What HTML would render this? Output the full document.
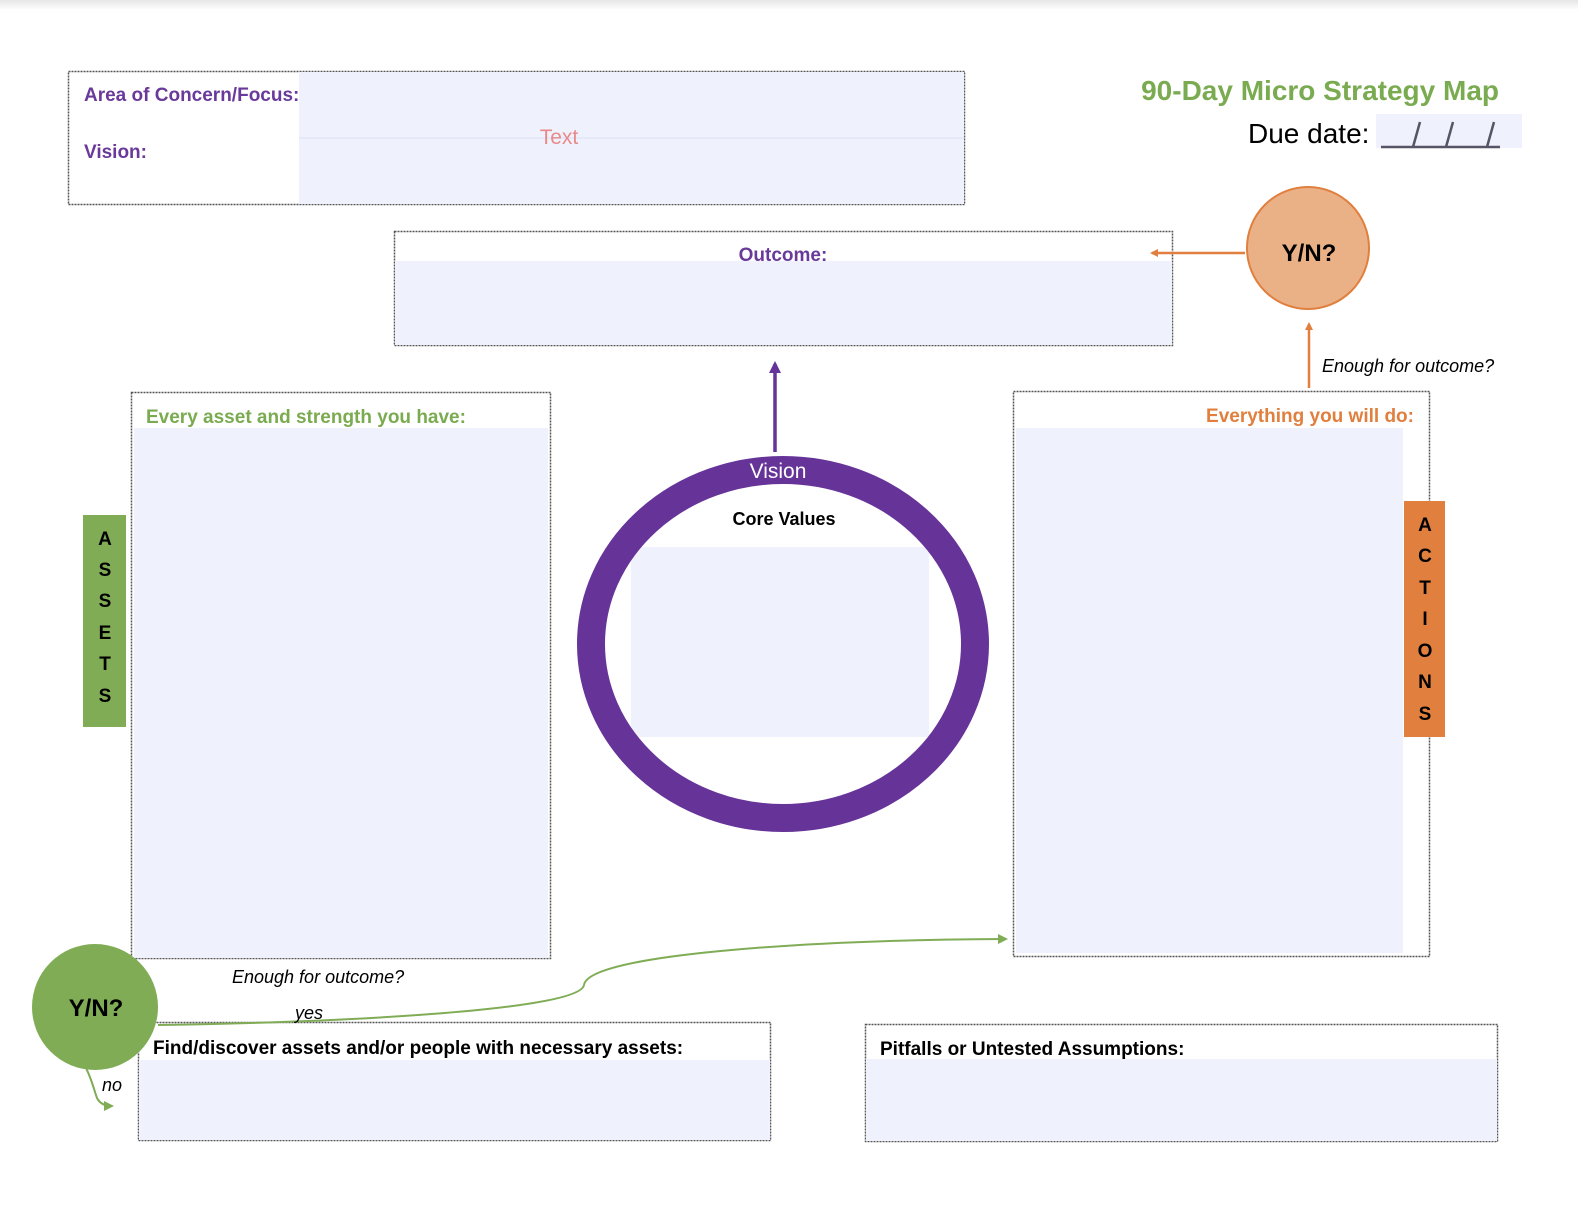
<!DOCTYPE html>
<html><head><meta charset="utf-8"><style>
html,body{margin:0;padding:0;background:#fff;overflow:hidden;width:1578px;height:1218px;}
svg{display:block;font-family:"Liberation Sans",sans-serif;}
.b{font-weight:bold;}
</style></head><body>
<svg width="1578" height="1218" viewBox="0 0 1578 1218" xmlns="http://www.w3.org/2000/svg">
<defs>
<linearGradient id="tg" x1="0" y1="0" x2="0" y2="1"><stop offset="0" stop-color="#e6e6e6"/><stop offset="1" stop-color="#fff"/></linearGradient>
<marker id="ao" markerWidth="8" markerHeight="8" refX="6" refY="4" orient="auto" markerUnits="userSpaceOnUse"><path d="M0,0 L8,4 L0,8 z" fill="#e07f3e"/></marker>
<marker id="ap" markerWidth="12" markerHeight="12" refX="9" refY="6" orient="auto" markerUnits="userSpaceOnUse"><path d="M0,0 L12,6 L0,12 z" fill="#663399"/></marker>
<marker id="ag" markerWidth="10" markerHeight="10" refX="8" refY="5" orient="auto" markerUnits="userSpaceOnUse"><path d="M0,0 L10,5 L0,10 z" fill="#7fac55"/></marker>
</defs>
<rect x="0" y="0" width="1578" height="10" fill="url(#tg)"/>
<g stroke="#555" stroke-width="1.5" stroke-dasharray="2,1" fill="none">
<rect x="68.5" y="71.5" width="896" height="133"/>
<rect x="394.5" y="231.5" width="778" height="114"/>
<rect x="131.5" y="392.5" width="419" height="566"/>
<rect x="1013.5" y="391.5" width="416" height="565"/>
<rect x="138.5" y="1022.5" width="632" height="118"/>
<rect x="865.5" y="1024.5" width="632" height="117"/>
</g>
<g fill="#eff2fd">
<rect x="299" y="72" width="665" height="132"/>
<rect x="395" y="261" width="777" height="84"/>
<rect x="134" y="428" width="414" height="530"/>
<rect x="1016" y="428" width="387" height="525"/>
<rect x="139" y="1060" width="631" height="80"/>
<rect x="866" y="1059" width="631" height="82"/>
<rect x="1376" y="114" width="146" height="34"/>
</g>
<line x1="299" y1="138" x2="964" y2="138" stroke="#e4e8f8" stroke-width="2"/>
<text x="84" y="101" class="b" font-size="19" fill="#6a3a9a">Area of Concern/Focus:</text>
<text x="84" y="158" class="b" font-size="19" fill="#6a3a9a">Vision:</text>
<text x="559" y="144" font-size="21" fill="#e88a8a" text-anchor="middle">Text</text>
<text x="1499" y="100" class="b" font-size="28" fill="#7aab50" text-anchor="end">90-Day Micro Strategy Map</text>
<text x="1248" y="143" font-size="28" fill="#000">Due date:</text>
<g stroke="#555566" stroke-width="2.5"><line x1="1381" y1="147" x2="1500" y2="147"/><line x1="1413" y1="147" x2="1420" y2="122"/><line x1="1446" y1="147" x2="1453" y2="122"/><line x1="1487" y1="147" x2="1494" y2="122"/></g>
<text x="783" y="261" class="b" font-size="19" fill="#6a3a9a" text-anchor="middle">Outcome:</text>
<circle cx="1308" cy="248" r="61" fill="#eab187" stroke="#e07f3e" stroke-width="2"/>
<text x="1309" y="261" class="b" font-size="24" text-anchor="middle">Y/N?</text>
<line x1="1245" y1="253" x2="1152" y2="253" stroke="#e07f3e" stroke-width="2.5" marker-end="url(#ao)"/>
<line x1="1309" y1="388" x2="1309" y2="324" stroke="#e07f3e" stroke-width="2.5" marker-end="url(#ao)"/>
<text x="1322" y="372" font-size="18" font-style="italic">Enough for outcome?</text>
<text x="146" y="423" class="b" font-size="19" fill="#7aab50">Every asset and strength you have:</text>
<text x="1414" y="422" class="b" font-size="19" fill="#e07f3e" text-anchor="end">Everything you will do:</text>
<rect x="83" y="515" width="43" height="212" fill="#7fac55"/>
<g class="b" font-size="19" text-anchor="middle"><text x="105" y="545">A</text><text x="105" y="576">S</text><text x="105" y="607">S</text><text x="105" y="639">E</text><text x="105" y="670">T</text><text x="105" y="702">S</text></g>
<rect x="1404" y="501" width="41" height="236" fill="#e07f3e"/>
<g class="b" font-size="19" text-anchor="middle"><text x="1425" y="531">A</text><text x="1425" y="562">C</text><text x="1425" y="594">T</text><text x="1425" y="625">I</text><text x="1425" y="657">O</text><text x="1425" y="688">N</text><text x="1425" y="720">S</text></g>
<rect x="631" y="547" width="298" height="190" fill="#eff2fd"/>
<ellipse cx="783" cy="644" rx="192" ry="174" fill="none" stroke="#663399" stroke-width="28"/>
<text x="778" y="478" font-size="21" fill="#fff" text-anchor="middle">Vision</text>
<text x="784" y="525" class="b" font-size="18" text-anchor="middle">Core Values</text>
<line x1="775" y1="452" x2="775" y2="364" stroke="#663399" stroke-width="3.5" marker-end="url(#ap)"/>
<path d="M158,1025 C350,1022 580,1010 584,985 C588,955 800,940 1006,939" fill="none" stroke="#7fac55" stroke-width="2" marker-end="url(#ag)"/>
<circle cx="95" cy="1007" r="63" fill="#7fac55"/>
<text x="96" y="1016" class="b" font-size="24" text-anchor="middle">Y/N?</text>
<path d="M86,1068 C92,1080 94,1090 97,1098 C100,1104 106,1106 112,1106" fill="none" stroke="#7fac55" stroke-width="2" marker-end="url(#ag)"/>
<text x="232" y="983" font-size="18" font-style="italic">Enough for outcome?</text>
<text x="295" y="1019" font-size="18" font-style="italic">yes</text>
<text x="102" y="1091" font-size="18" font-style="italic">no</text>
<text x="153" y="1054" class="b" font-size="19">Find/discover assets and/or people with necessary assets:</text>
<text x="880" y="1055" class="b" font-size="19">Pitfalls or Untested Assumptions:</text>
</svg>
</body></html>
